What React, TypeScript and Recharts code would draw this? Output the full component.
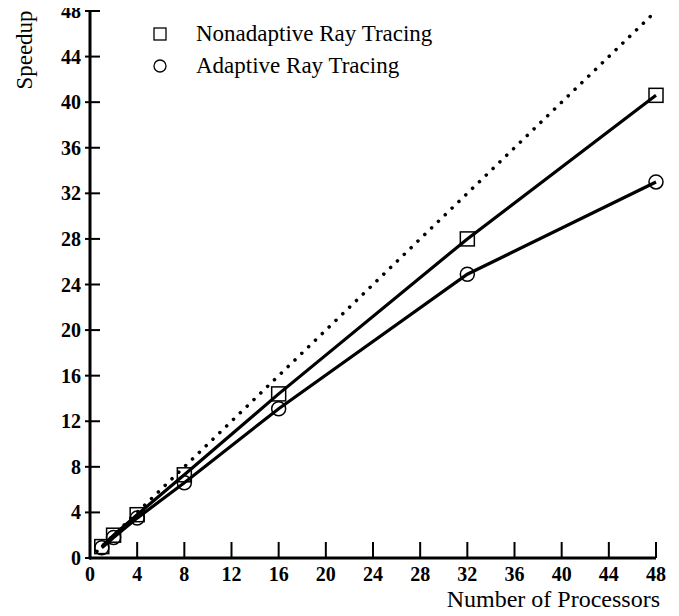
import { LineChart, Line, XAxis, YAxis, Legend } from 'recharts';

const processors = [1, 2, 4, 8, 16, 32, 48];
const nonadaptiveSpeedup = [1.0, 2.0, 3.8, 7.3, 14.4, 28.0, 40.6];
const adaptiveSpeedup = [0.9, 1.8, 3.5, 6.6, 13.1, 24.9, 33.0];
const idealProcessors = [0, 48];
const idealSpeedup = [0, 48];
const xTicks = [0, 4, 8, 12, 16, 20, 24, 28, 32, 36, 40, 44, 48];
const yTicks = [0, 4, 8, 12, 16, 20, 24, 28, 32, 36, 40, 44, 48];
const seriesNames = ['Nonadaptive Ray Tracing', 'Adaptive Ray Tracing'];

const nonadaptive = processors.map((p, i) => ({ x: p, y: nonadaptiveSpeedup[i] }));
const adaptive = processors.map((p, i) => ({ x: p, y: adaptiveSpeedup[i] }));
const ideal = idealProcessors.map((p, i) => ({ x: p, y: idealSpeedup[i] }));

const FONT = '"Liberation Serif", "Times New Roman", serif';

const XTick = ({ x, y, payload }: any) => (
  <g>
    <line x1={x} x2={x} y1={y - 16} y2={y} stroke="#000" strokeWidth={2} />
    <text x={x} y={y + 23} textAnchor="middle" fontFamily={FONT} fontWeight="bold" fontSize={20} fill="#000">
      {payload.value}
    </text>
  </g>
);

const YTick = ({ x, y, payload }: any) => (
  <g>
    <line x1={x - 5} x2={x + 10} y1={y} y2={y} stroke="#000" strokeWidth={2} />
    <text x={x - 9} y={y + 7} textAnchor="end" fontFamily={FONT} fontWeight="bold" fontSize={20} fill="#000">
      {payload.value}
    </text>
  </g>
);

const SquareDot = ({ cx, cy, index }: any) => (
  <rect key={`sq-${index}`} x={cx - 7} y={cy - 7} width={14} height={14} fill="none" stroke="#000" strokeWidth={1.5} />
);

const CircleDot = ({ cx, cy, index }: any) => (
  <circle key={`ci-${index}`} cx={cx} cy={cy} r={7} fill="none" stroke="#000" strokeWidth={1.5} />
);

const LegendBox = () => (
  <div style={{ fontFamily: FONT, fontSize: 23, color: '#000' }}>
    {seriesNames.map((name, i) => (
      <div key={name} style={{ display: 'flex', alignItems: 'center', height: 32 }}>
        <svg width={14} height={14} style={{ marginRight: 29 }}>
          {i === 0 ? (
            <rect x={1} y={1} width={12} height={12} fill="none" stroke="#000" strokeWidth={1.3} />
          ) : (
            <circle cx={7} cy={7} r={6} fill="none" stroke="#000" strokeWidth={1.3} />
          )}
        </svg>
        <span>{name}</span>
      </div>
    ))}
  </div>
);

export default function App() {
  return (
    <div style={{ margin: -8, width: 679, height: 616 }}>
      <LineChart width={679} height={616} margin={{ top: 11, right: 23, left: 0, bottom: 0 }}>
        <XAxis
          type="number"
          dataKey="x"
          domain={[0, 48]}
          ticks={xTicks}
          interval={0}
          tickSize={0}
          tickMargin={0}
          tickLine={false}
          tick={<XTick />}
          height={58}
          axisLine={{ stroke: '#000', strokeWidth: 3 }}
          label={() => (
            <text x={660} y={607} textAnchor="end" fontFamily={FONT} fontSize={24} fill="#000">
              Number of Processors
            </text>
          )}
        />
        <YAxis
          type="number"
          dataKey="y"
          domain={[0, 48]}
          ticks={yTicks}
          interval={0}
          tickSize={0}
          tickMargin={0}
          tickLine={false}
          tick={<YTick />}
          width={90}
          axisLine={{ stroke: '#000', strokeWidth: 3 }}
          label={() => (
            <text x={32} y={50} transform="rotate(-90 32 50)" textAnchor="middle" fontFamily={FONT} fontSize={23} fill="#000">
              Speedup
            </text>
          )}
        />
        <Legend
          layout="horizontal"
          verticalAlign="middle"
          align="center"
          content={<LegendBox />}
          wrapperStyle={{ top: 18, left: 153, width: 320 }}
        />
        <Line
          data={ideal}
          dataKey="y"
          stroke="#000"
          strokeWidth={3.5}
          strokeDasharray="0.1 9.4"
          strokeLinecap="round"
          dot={false}
          activeDot={false}
          isAnimationActive={false}
          legendType="none"
        />
        <Line
          data={nonadaptive}
          dataKey="y"
          name={seriesNames[0]}
          stroke="#000"
          strokeWidth={3.2}
          dot={SquareDot}
          activeDot={false}
          isAnimationActive={false}
        />
        <Line
          data={adaptive}
          dataKey="y"
          name={seriesNames[1]}
          stroke="#000"
          strokeWidth={3.2}
          dot={CircleDot}
          activeDot={false}
          isAnimationActive={false}
        />
      </LineChart>
    </div>
  );
}
